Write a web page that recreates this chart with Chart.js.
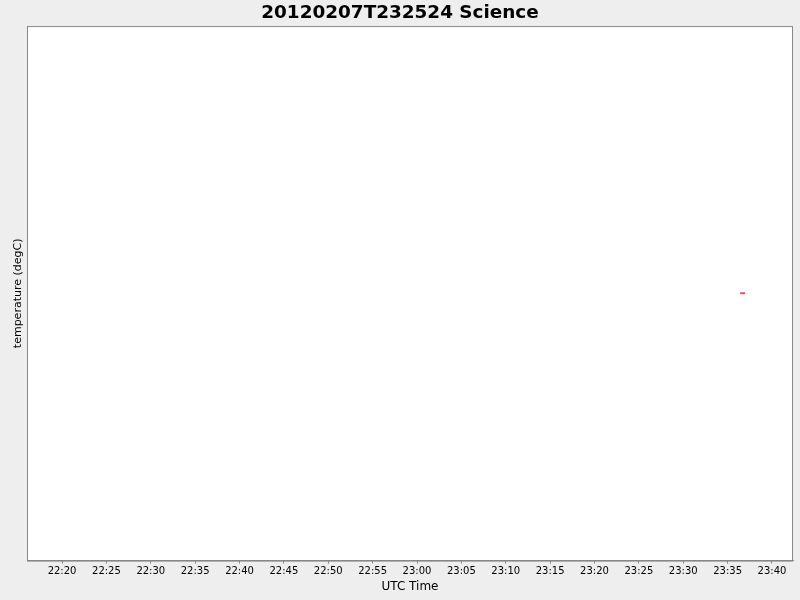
<!DOCTYPE html>
<html>
<head>
<meta charset="utf-8">
<style>
  html, body { margin: 0; padding: 0; background: #eeeeee; }
  #wrap { width: 800px; height: 600px; }
</style>
</head>
<body>
<div id="wrap"><canvas id="sciChart" width="800" height="600"></canvas></div>

<script src="https://cdn.jsdelivr.net/npm/chart.js"></script>
<script>
  // sample times (UTC) and temperatures
  const sampleTimes = ["23:36:25", "23:36:58"];
  const temperatures = [12.0, 12.0];
  // x tick labels, every 5 minutes
  const tickLabels = ["22:20", "22:25", "22:30", "22:35", "22:40", "22:45", "22:50", "22:55",
    "23:00", "23:05", "23:10", "23:15", "23:20", "23:25", "23:30", "23:35", "23:40"];
  const axisStart = "22:16:03";
  const axisEnd = "23:42:22";

  function toMinutes(s) {
    const p = s.split(":").map(Number);
    return p[0] * 60 + p[1] + (p[2] || 0) / 60;
  }
  function fmt(m) {
    const h = Math.floor(m / 60), mm = Math.round(m - h * 60);
    return String(h).padStart(2, "0") + ":" + String(mm).padStart(2, "0");
  }

  const points = sampleTimes.map((t, i) => ({ x: toMinutes(t), y: temperatures[i] }));

  // white plot area with grey frame
  const plotFrame = {
    id: "plotFrame",
    beforeDraw(chart) {
      const { ctx, chartArea: a } = chart;
      ctx.save();
      ctx.fillStyle = "#ffffff";
      ctx.fillRect(a.left, a.top, a.right - a.left, a.bottom - a.top);
      ctx.restore();
    },
    afterDraw(chart) {
      const { ctx, chartArea: a } = chart;
      ctx.save();
      ctx.strokeStyle = "#888888";
      ctx.lineWidth = 1;
      ctx.strokeRect(a.left + 0.5, a.top + 0.5, a.right - a.left - 1, a.bottom - a.top);
      ctx.restore();
    }
  };

  new Chart(document.getElementById("sciChart"), {
    type: "line",
    data: {
      datasets: [{
        label: "temperature",
        data: points,
        borderColor: "#e85050",
        borderWidth: 2,
        pointRadius: 0,
        fill: false
      }]
    },
    plugins: [plotFrame],
    options: {
      responsive: false,
      animation: false,
      layout: { padding: { top: 0, right: 7, bottom: 6, left: 7 } },
      plugins: {
        legend: { display: false },
        tooltip: { enabled: false },
        title: {
          display: true,
          text: "20120207T232524 Science",
          color: "#000000",
          font: { family: "DejaVu Sans", size: 18.4, weight: "bold" },
          padding: { top: 2, bottom: 2 }
        }
      },
      scales: {
        x: {
          type: "linear",
          min: toMinutes(axisStart),
          max: toMinutes(axisEnd),
          afterBuildTicks(scale) {
            scale.ticks = tickLabels.map(l => ({ value: toMinutes(l) }));
          },
          border: { display: true, color: "#888888" },
          grid: { drawOnChartArea: false, drawTicks: true, tickLength: 3, color: "#888888" },
          ticks: {
            color: "#000000",
            padding: 2,
            maxRotation: 0,
            autoSkip: false,
            font: { family: "DejaVu Sans", size: 10 },
            callback: v => fmt(v)
          },
          title: {
            display: true,
            text: "UTC Time",
            color: "#000000",
            font: { family: "DejaVu Sans", size: 12 },
            padding: { top: 0, bottom: 0 }
          }
        },
        y: {
          min: 11,
          max: 13,
          afterFit(scale) { scale.width = 20; },
          border: { display: true, color: "#888888" },
          grid: { display: false },
          ticks: { display: false },
          title: {
            display: true,
            text: "temperature (degC)",
            color: "#000000",
            font: { family: "DejaVu Sans", size: 11 },
            padding: { top: 4.4, bottom: 0 }
          }
        }
      }
    }
  });
</script>
</body>
</html>
